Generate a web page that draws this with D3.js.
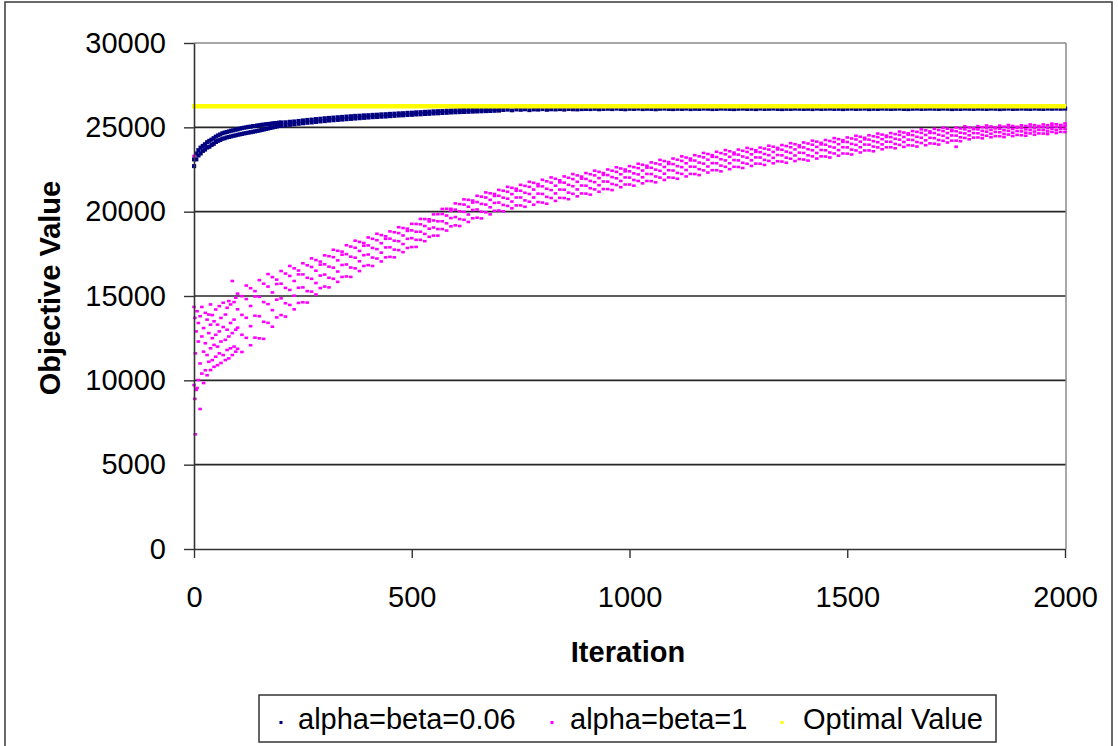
<!DOCTYPE html>
<html><head><meta charset="utf-8">
<script src="https://cdn.jsdelivr.net/npm/d3@7"></script>
<style>
html,body{margin:0;padding:0;background:#fff;}
svg{display:block;font-family:"Liberation Sans",Arial,sans-serif;}
</style></head>
<body><svg id="chart" width="1118" height="746"></svg>
<script>
// ---------- data ----------
const xTicks = [0, 500, 1000, 1500, 2000];
const yTicks = [0, 5000, 10000, 15000, 20000, 25000, 30000];
const seriesNames = ["alpha=beta=0.06", "alpha=beta=1", "Optimal Value"];
const seriesColors = ["#000080", "#FF00FF", "#FFFF00"];
const optimalValue = 26250;

// alpha=beta=0.06 : [iteration, lower, upper]
const blueBand = [
[0,22700,23100],[5,23100,23450],[10,23330,23650],[15,23450,23800],[20,23600,23900],
[25,23680,24000],[30,23800,24120],[35,23850,24200],[40,23950,24270],[45,24020,24360],
[50,24130,24450],[55,24200,24520],[60,24250,24580],[65,24320,24650],[70,24350,24690],
[75,24400,24720],[80,24430,24760],[85,24460,24800],[90,24500,24820],[95,24520,24860],
[100,24560,24880],[105,24580,24920],[110,24610,24950],[115,24640,24980],[120,24660,25000],
[125,24690,25030],[130,24710,25040],[135,24740,25070],[140,24760,25080],[145,24790,25110],
[150,24810,25120],[155,24840,25150],[160,24870,25160],[165,24900,25180],[170,24930,25200],
[175,24960,25210],[180,24990,25230],[185,25020,25250],[190,25050,25260],[195,25080,25280],
[200,25100,25290],[210,25120,25300],[220,25150,25330],[230,25180,25350],[240,25210,25380],
[250,25240,25410],[260,25270,25440],[270,25290,25460],[280,25320,25490],[290,25350,25510],
[300,25370,25540],[310,25400,25560],[320,25420,25580],[330,25440,25600],[340,25460,25620],
[350,25480,25640],[360,25500,25660],[370,25520,25680],[380,25540,25690],[390,25560,25710],
[400,25580,25720],[410,25600,25740],[420,25610,25750],[430,25630,25770],[440,25640,25780],
[450,25660,25800],[460,25680,25810],[470,25700,25830],[480,25710,25840],[490,25730,25860],
[500,25740,25870],[510,25760,25890],[520,25770,25900],[530,25790,25920],[540,25800,25930],
[550,25820,25950],[560,25830,25960],[570,25850,25970],[580,25860,25990],[590,25880,26000],
[600,25890,26010],[610,25900,26020],[620,25910,26030],[630,25920,26040],[640,25930,26050],
[650,25940,26060],[660,25950,26060],[670,25960,26070],[680,25970,26080],[690,25980,26080],
[700,25990,26090]
];
// alpha=beta=0.06 : [iteration, value] after convergence
const blueTail = [
[710,26030],[720,26050],[730,26010],[740,26060],[750,26040],[760,26070],[770,26020],[780,26060],[790,26050],[800,26080],
[810,26040],[820,26070],[830,26060],[840,26080],[850,26050],[860,26090],[870,26070],[880,26060],[890,26080],[900,26090],
[910,26080],[920,26100],[930,26070],[940,26090],[950,26100],[960,26080],[970,26110],[980,26090],[990,26070],[1000,26100],
[1010,26090],[1020,26110],[1030,26080],[1040,26100],[1050,26090],[1060,26070],[1070,26100],[1080,26110],[1090,26090],[1100,26080],
[1110,26100],[1120,26090],[1130,26110],[1140,26080],[1150,26100],[1160,26090],[1170,26110],[1180,26100],[1190,26080],[1200,26090],
[1210,26110],[1220,26100],[1230,26090],[1240,26080],[1250,26100],[1260,26110],[1270,26090],[1280,26100],[1290,26080],[1300,26110],
[1310,26090],[1320,26100],[1330,26110],[1340,26090],[1350,26080],[1360,26100],[1370,26090],[1380,26110],[1390,26100],[1400,26090],
[1410,26100],[1420,26080],[1430,26110],[1440,26090],[1450,26100],[1460,26110],[1470,26090],[1480,26100],[1490,26080],[1500,26100],
[1510,26110],[1520,26090],[1530,26100],[1540,26110],[1550,26080],[1560,26100],[1570,26090],[1580,26110],[1590,26100],[1600,26090],
[1610,26100],[1620,26110],[1630,26090],[1640,26080],[1650,26100],[1660,26110],[1670,26090],[1680,26100],[1690,26110],[1700,26100],
[1710,26090],[1720,26110],[1730,26100],[1740,26080],[1750,26100],[1760,26090],[1770,26110],[1780,26100],[1790,26090],[1800,26110],
[1810,26100],[1820,26090],[1830,26110],[1840,26100],[1850,26080],[1860,26100],[1870,26110],[1880,26090],[1890,26100],[1900,26110],
[1910,26100],[1920,26090],[1930,26110],[1940,26100],[1950,26090],[1960,26110],[1970,26100],[1980,26110],[1990,26100],[2000,26110]
];
// alpha=beta=1 : [iteration, values...] read from the cloud
const magentaRows = [
[0,23300,14350,9720],[2,8900,13700],[3,6800,11600],[5,9430,12900],[7,9550,14100],
[10,10020,12300,13400],[14,8300,11000,13800],[18,10400,12600,14350],[22,9840,11700,13100],
[26,10600,12200,14000],[30,10300,11500,13600],[34,11100,12800,13900],[38,10610,11900,13300,14500],
[42,11200,12500,13870],[46,10800,12100,13500],[50,11400,12700,14200],[54,10900,12000,13300],
[58,11600,12900,14400],[62,11030,12300,13700],[67,11500,13160,14600],[72,11200,12400,13900],
[76,11800,13000,14300],[80,11300,12600,14700],[84,11900,13400,14500],[88,11500,12800,15890],
[92,12000,13600,14640],[96,11700,13000,14900],
[100,15140,14210,13120,11870],[110,14990,13880,12700,11680],[120,15620,14820,13710,12520],
[130,15460,14410,13210,12080],[140,15290,14970,13830,12530],[150,15940,14950,13800,12490],
[160,15730,14640,13470,12460],[170,16300,15560,14520,13410],[180,16120,15210,14160,13180],
[190,15970,15710,14780,13730],[200,16480,15730,14860,13870],[210,16330,15480,14570,13780],
[220,16780,16190,15360,14470],[230,16640,15890,15020,14210],[240,16510,16280,15490,14590],
[250,16940,16280,15510,14630],[260,16820,16080,15290,14610],[270,17230,16720,16020,15260],
[280,17130,16500,15770,15090],[290,17040,16860,16210,15470],[300,17410,16880,16270,15560],
[310,17360,16740,16080,15510],[320,17740,17300,16680,16020],[330,17680,17110,16450,15840],
[340,17630,17450,16840,16130],[350,18010,17480,16870,16160],[360,17930,17330,16690,16130],
[370,18280,17860,17270,16640],[380,18210,17670,17060,16480],[390,18140,17980,17420,16780],
[400,18470,18000,17460,16830],[410,18390,17850,17280,16780],[420,18690,18310,17780,17220],
[430,18610,18130,17570,17050],[440,18540,18390,17880,17290],[450,18830,18400,17890,17320],
[460,18780,18280,17750,17290],[470,19080,18730,18250,17720],[480,19030,18590,18080,17600],
[490,18990,18860,18390,17850],[500,19280,18890,18430,17900],[510,19270,18810,18330,17910],
[520,19570,19250,18810,18330],[530,19560,19150,18680,18250],[540,19550,19420,18990,18510],
[550,19840,19480,19060,18580],[560,19850,19430,18970,18580],[570,20160,19860,19430,18970],
[580,20170,19770,19310,18880],[590,20170,20050,19620,19130],[600,20490,20120,19680,19190],
[610,20450,20020,19560,19150],[620,20730,20420,19990,19520],[630,20700,20290,19830,19390],
[640,20660,20540,20100,19610],[650,20940,20570,20130,19640],[660,20890,20460,20000,19600],
[670,21140,20840,20420,19960],[680,21090,20700,20260,19840],[690,21050,20930,20520,20050],
[700,21290,20940,20540,20070],[710,21240,20830,20400,20020],[720,21470,21180,20770,20340],
[730,21410,21040,20600,20200],[740,21360,21240,20840,20370],[750,21590,21240,20840,20370],
[760,21530,21120,20670,20290],[770,21770,21470,21050,20590],[780,21710,21310,20840,20410],
[790,21640,21510,21070,20570],[800,21890,21500,21050,20540],[810,21800,21360,20880,20470],
[820,22030,21720,21280,20810],[830,21950,21540,21080,20640],[840,21860,21740,21310,20820],
[850,22090,21720,21300,20810],[860,22010,21590,21130,20740],[870,22230,21930,21510,21060],
[880,22150,21770,21320,20910],[890,22080,21960,21550,21080],[900,22290,21940,21540,21070],
[910,22220,21820,21390,21010],[920,22430,22150,21750,21320],[930,22360,21990,21570,21180],
[940,22290,22180,21790,21340],[950,22500,22170,21780,21340],[960,22430,22050,21640,21280],
[970,22630,22360,21980,21580],[980,22560,22220,21820,21450],[990,22500,22390,22030,21610],
[1000,22700,22390,22020,21610],[1010,22640,22270,21880,21540],[1020,22840,22580,22210,21820],
[1030,22780,22440,22040,21680],[1040,22720,22610,22240,21820],[1050,22920,22600,22230,21810],
[1060,22860,22490,22090,21740],[1070,23070,22800,22420,22020],[1080,23000,22650,22250,21880],
[1090,22940,22830,22460,22030],[1100,23150,22820,22440,22010],[1110,23080,22700,22300,21950],
[1120,23280,23010,22640,22240],[1130,23210,22870,22470,22090],[1140,23150,23040,22670,22240],
[1150,23350,23030,22660,22230],[1160,23280,22910,22520,22170],[1170,23480,23220,22850,22450],
[1180,23420,23080,22680,22320],[1190,23350,23250,22880,22460],[1200,23550,23240,22870,22460],
[1210,23470,23110,22730,22390],[1220,23650,23400,23040,22660],[1230,23580,23250,22870,22520],
[1240,23500,23400,23060,22660],[1250,23680,23380,23040,22650],[1260,23610,23270,22900,22590],
[1270,23780,23540,23200,22840],[1280,23710,23400,23050,22710],[1290,23640,23550,23220,22850],
[1300,23800,23530,23210,22840],[1310,23740,23420,23070,22770],[1320,23910,23680,23350,23010],
[1330,23850,23540,23190,22870],[1340,23780,23690,23360,22990],[1350,23950,23670,23340,22970],
[1360,23890,23560,23200,22900],[1370,24060,23820,23490,23140],[1380,24000,23690,23330,23000],
[1390,23930,23830,23500,23120],[1400,24100,23810,23480,23090],[1410,24040,23700,23340,23030],
[1420,24210,23970,23640,23280],[1430,24150,23840,23480,23150],[1440,24080,23990,23660,23280],
[1450,24250,23970,23640,23270],[1460,24190,23860,23510,23210],[1470,24360,24130,23800,23450],
[1480,24300,24000,23650,23320],[1490,24240,24140,23820,23450],[1500,24400,24130,23810,23440],
[1510,24340,24020,23680,23390],[1520,24500,24280,23960,23630],[1530,24440,24150,23820,23510],
[1540,24380,24290,23980,23630],[1550,24530,24270,23970,23630],[1560,24470,24180,23860,23580],
[1570,24630,24420,24120,23810],[1580,24570,24300,23990,23700],[1590,24510,24430,24150,23820],
[1600,24660,24420,24140,23820],[1610,24600,24320,24020,23760],[1620,24750,24550,24270,23960],
[1630,24690,24430,24130,23840],[1640,24640,24560,24270,23940],[1650,24780,24540,24250,23920],
[1660,24730,24440,24130,23860],[1670,24880,24670,24380,24070],[1680,24820,24550,24230,23940],
[1690,24760,24670,24380,24050],[1700,24910,24660,24360,24030],[1710,24840,24560,24250,23980],
[1720,24980,24780,24500,24200],[1730,24920,24660,24370,24100],[1740,24860,24780,24520,24210],
[1750,24990,24770,24510,24210,23850],[1760,24930,24680,24410,24180],[1770,25060,24880,24640,24370],
[1780,25000,24780,24530,24290],[1790,24950,24890,24660,24390],[1800,25070,24880,24650,24400],
[1810,25010,24790,24550,24350],[1820,25110,24950,24740,24500],[1830,25050,24850,24620,24410],
[1840,25000,24940,24730,24480],[1850,25100,24920,24710,24470],[1860,25040,24830,24610,24420],
[1870,25140,24990,24790,24570],[1880,25080,24900,24680,24480],[1890,25030,24980,24780,24550],
[1900,25120,24950,24760,24530],[1910,25080,24880,24680,24500],[1920,25170,25030,24840,24640],
[1930,25130,24950,24750,24560],[1940,25080,25030,24850,24640],[1950,25170,25020,24840,24630],
[1960,25130,24950,24760,24600],[1970,25220,25090,24920,24730],[1980,25180,25020,24830,24660],
[1990,25140,25090,24920,24730],[2000,25230,25080,24910,24720]
];

// ---------- build point lists ----------
const bluePts = [];
blueBand.forEach(r => { bluePts.push([r[0], r[1]]); bluePts.push([r[0], r[2]]); });
blueTail.forEach(r => bluePts.push([r[0], r[1]]));
const magentaPts = [];
magentaRows.forEach(r => { for (let i = 1; i < r.length; i++) magentaPts.push([r[0], r[i]]); });

// ---------- layout ----------
const svg = d3.select("#chart");
const L = 194, R = 1065, T = 43, B = 549;
const x = d3.scaleLinear().domain([0, 2000]).range([L, R]);
const y = d3.scaleLinear().domain([0, 30000]).range([B, T]);
const FONT = "29px";

// outer border
svg.append("rect").attr("x", 5).attr("y", 2).attr("width", 1107).attr("height", 780)
  .attr("fill", "#fff").attr("stroke", "#3a3a3a").attr("stroke-width", 1.5);

// gridlines
svg.append("g").selectAll("line").data(yTicks.filter(v => v > 0 && v < 30000)).join("line")
  .attr("x1", L).attr("x2", 1066).attr("y1", d => y(d)).attr("y2", d => y(d))
  .attr("stroke", "#262626").attr("stroke-width", 1.6);
// plot border (top + right)
svg.append("line").attr("x1", L).attr("x2", 1066).attr("y1", y(30000)).attr("y2", y(30000))
  .attr("stroke", "#8a8a8a").attr("stroke-width", 1.5);
svg.append("line").attr("x1", 1066).attr("x2", 1066).attr("y1", T).attr("y2", B)
  .attr("stroke", "#8a8a8a").attr("stroke-width", 1.5);

// series
const gBlue = svg.append("g");
gBlue.selectAll("rect").data(bluePts).join("rect")
  .attr("x", d => x(d[0]) - 2).attr("y", d => y(d[1]) - 2)
  .attr("width", 4.2).attr("height", 4).attr("fill", seriesColors[0]);
const gMag = svg.append("g");
gMag.selectAll("rect").data(magentaPts).join("rect")
  .attr("x", d => x(d[0]) - 1.8).attr("y", d => y(d[1]) - 1.3)
  .attr("width", 3.6).attr("height", 2.6).attr("fill", seriesColors[1]);
svg.append("line").attr("x1", x(0) - 2).attr("x2", 1066)
  .attr("y1", y(optimalValue)).attr("y2", y(optimalValue))
  .attr("stroke", seriesColors[2]).attr("stroke-width", 4.5);

// axes
const yAxis = svg.append("g").attr("transform", `translate(${L},0)`)
  .call(d3.axisLeft(y).tickValues(yTicks).tickFormat(d3.format("d")).tickSize(10).tickSizeOuter(0).tickPadding(18));
const xAxis = svg.append("g").attr("transform", `translate(0,${B})`)
  .call(d3.axisBottom(x).tickValues(xTicks).tickFormat(d3.format("d")).tickSize(9).tickSizeOuter(0).tickPadding(28));
[yAxis, xAxis].forEach(g => {
  g.select(".domain").attr("stroke", "#333").attr("stroke-width", 1.6);
  g.selectAll(".tick line").attr("stroke", "#333").attr("stroke-width", 1.4);
  g.selectAll(".tick text").attr("fill", "#000").style("font-size", FONT)
    .style("font-family", '"Liberation Sans",Arial,sans-serif');
});

// axis titles
svg.append("text").attr("transform", "translate(60,288) rotate(-90)")
  .attr("text-anchor", "middle").style("font-size", FONT).style("font-weight", "bold")
  .text("Objective Value");
svg.append("text").attr("x", 628).attr("y", 662)
  .attr("text-anchor", "middle").style("font-size", FONT).style("font-weight", "bold")
  .text("Iteration");

// legend
const lg = svg.append("g");
lg.append("rect").attr("x", 259).attr("y", 695).attr("width", 737).attr("height", 47)
  .attr("fill", "#fff").attr("stroke", "#333").attr("stroke-width", 1.5);
const legendItems = [
  {name: seriesNames[0], color: seriesColors[0], mx: 281, tx: 298},
  {name: seriesNames[1], color: seriesColors[1], mx: 552, tx: 570},
  {name: seriesNames[2], color: seriesColors[2], mx: 782, tx: 803}
];
legendItems.forEach(it => {
  lg.append("rect").attr("x", it.mx - 1.5).attr("y", 721).attr("width", 3).attr("height", 3)
    .attr("fill", it.color);
  lg.append("text").attr("x", it.tx).attr("y", 729).style("font-size", FONT).text(it.name);
});
</script>
</body></html>
